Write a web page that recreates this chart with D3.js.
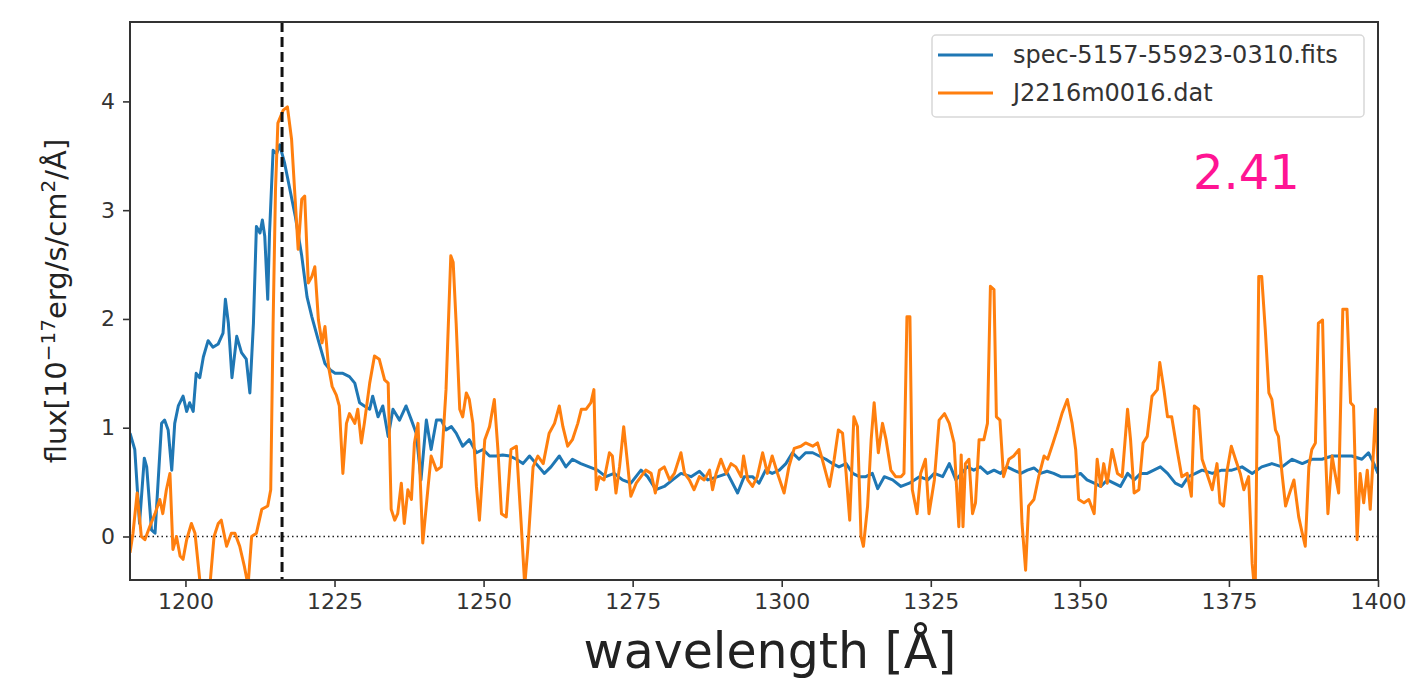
<!DOCTYPE html>
<html>
<head>
<meta charset="utf-8">
<script src="https://cdn.jsdelivr.net/npm/d3@7"></script>
<style>
    body { margin: 0; background: #fff; }
    svg { display: block; font-family: "DejaVu Sans", sans-serif; }
</style>
</head>
<body>
<svg id="vis"></svg>
<script>
const seriesNames = ["spec-5157-55923-0310.fits", "J2216m0016.dat"];
const seriesColors = ["#1f77b4", "#ff7f0e"];
const xTicks = [1200, 1225, 1250, 1275, 1300, 1325, 1350, 1375, 1400];
const yTicks = [0, 1, 2, 3, 4];
const xLimits = [1190.7, 1400];
const yLimits = [-0.4, 4.73];
const lyaLine = 1216.2;
const redshiftLabel = "2.41";

// SDSS spectrum (blue)
const blueWave = [
    1190.7, 1191.5, 1192.3, 1193.1, 1193.5, 1194.3, 1194.9, 1196.0, 1196.5, 1197.1,
    1197.7, 1198.2, 1198.8, 1199.6, 1200.2, 1200.7, 1201.3, 1201.8, 1202.4, 1203.0,
    1203.8, 1204.6, 1205.5, 1206.3, 1206.7, 1207.2, 1207.8, 1208.6, 1209.4, 1210.2,
    1210.8, 1211.4, 1211.9, 1212.5, 1212.9, 1213.3, 1213.8, 1214.1, 1214.7, 1215.3,
    1215.8, 1216.6, 1217.3, 1218.4, 1219.5, 1220.4, 1221.2, 1222.3, 1223.4, 1224.3,
    1225.1, 1226.4, 1227.5, 1228.4, 1229.2, 1230.0, 1230.9, 1231.4, 1232.3, 1233.1,
    1234.0, 1234.8, 1235.9, 1237.0, 1237.9, 1238.7, 1239.5, 1240.4, 1241.2, 1242.1,
    1242.9, 1243.7, 1244.6, 1245.4, 1246.5, 1247.6, 1248.8, 1249.9, 1251.0, 1252.1,
    1253.2, 1254.4, 1255.5, 1256.6, 1257.7, 1258.8, 1260.2, 1261.3, 1262.7, 1263.8,
    1264.9, 1266.3, 1267.7, 1269.1, 1270.5, 1271.9, 1273.3, 1274.7, 1276.4, 1277.5,
    1278.9, 1280.3, 1281.7, 1283.1, 1284.8, 1286.2, 1287.6, 1289.3, 1290.9, 1292.6,
    1293.7, 1295.1, 1296.2, 1297.3, 1298.4, 1299.6, 1300.7, 1301.8, 1302.9, 1304.0,
    1305.2, 1306.3, 1307.4, 1308.5, 1309.6, 1310.8, 1311.9, 1313.0, 1314.1, 1315.2,
    1316.1, 1317.2, 1318.6, 1320.0, 1321.4, 1323.1, 1324.5, 1325.6, 1327.0, 1328.1,
    1329.2, 1331.1, 1332.2, 1333.3, 1334.5, 1335.6, 1336.7, 1337.8, 1338.9, 1340.1,
    1341.2, 1342.3, 1343.4, 1344.5, 1345.6, 1346.8, 1347.9, 1349.0, 1350.1, 1351.2,
    1352.4, 1353.5, 1354.6, 1355.7, 1356.8, 1358.0, 1359.1, 1360.2, 1361.3, 1362.4,
    1363.5, 1364.7, 1366.0, 1367.1, 1368.2, 1369.4, 1370.5, 1372.2, 1373.8, 1375.5,
    1377.2, 1378.9, 1380.5, 1382.2, 1383.9, 1385.6, 1387.3, 1388.9, 1390.6, 1392.3,
    1394.0, 1395.6, 1397.3, 1398.4, 1399.3, 1400.0
];
const blueFlux = [
    0.95, 0.80, 0.12, 0.72, 0.64, 0.06, 0.03, 1.04, 1.07, 0.98,
    0.61, 1.04, 1.20, 1.29, 1.15, 1.23, 1.15, 1.50, 1.46, 1.65,
    1.80, 1.74, 1.77, 1.87, 2.18, 1.96, 1.46, 1.84, 1.69, 1.63,
    1.32, 1.96, 2.85, 2.79, 2.91, 2.76, 2.18, 2.79, 3.55, 3.52,
    3.60, 3.44, 3.25, 2.95, 2.58, 2.20, 2.02, 1.80, 1.59, 1.53,
    1.50, 1.50, 1.47, 1.41, 1.23, 1.20, 1.17, 1.29, 1.10, 1.20,
    0.92, 1.17, 1.07, 1.20, 1.07, 0.95, 0.52, 1.07, 0.80, 1.07,
    1.07, 0.98, 1.01, 0.95, 0.83, 0.89, 0.77, 0.80, 0.74, 0.74,
    0.75, 0.74, 0.71, 0.67, 0.74, 0.67, 0.58, 0.64, 0.74, 0.64,
    0.71, 0.67, 0.64, 0.61, 0.55, 0.58, 0.52, 0.49, 0.61, 0.55,
    0.43, 0.46, 0.52, 0.58, 0.55, 0.60, 0.52, 0.55, 0.58, 0.40,
    0.55, 0.55, 0.49, 0.61, 0.58, 0.61, 0.67, 0.77, 0.71, 0.77,
    0.77, 0.74, 0.71, 0.67, 0.64, 0.67, 0.58, 0.55, 0.55, 0.58,
    0.44, 0.55, 0.52, 0.46, 0.49, 0.55, 0.52, 0.58, 0.55, 0.67,
    0.52, 0.64, 0.61, 0.64, 0.58, 0.61, 0.58, 0.64, 0.61, 0.58,
    0.61, 0.63, 0.58, 0.60, 0.58, 0.55, 0.55, 0.55, 0.58, 0.52,
    0.49, 0.46, 0.52, 0.49, 0.46, 0.58, 0.52, 0.58, 0.58, 0.61,
    0.64, 0.58, 0.49, 0.46, 0.55, 0.58, 0.61, 0.58, 0.61, 0.61,
    0.64, 0.58, 0.64, 0.67, 0.64, 0.71, 0.67, 0.71, 0.71, 0.74,
    0.74, 0.74, 0.71, 0.77, 0.67, 0.58
];

// comparison spectrum (orange)
const orangeWave = [
    1190.7, 1191.2, 1191.9, 1192.6, 1193.2, 1194.0, 1194.9, 1195.7, 1196.2, 1196.8,
    1197.4, 1197.9, 1198.5, 1199.1, 1199.6, 1200.2, 1201.0, 1201.6, 1202.4, 1203.2,
    1204.1, 1204.8, 1205.5, 1206.0, 1206.9, 1207.7, 1208.3, 1209.1, 1209.9, 1210.5,
    1211.1, 1211.9, 1212.8, 1213.8, 1214.3, 1214.7, 1215.1, 1215.5, 1216.4, 1217.1,
    1217.8, 1218.3, 1218.9, 1219.5, 1220.0, 1220.6, 1221.2, 1221.7, 1222.3, 1222.9,
    1223.4, 1224.0, 1224.6, 1225.3, 1225.8, 1226.4, 1227.0, 1227.5, 1228.4, 1228.9,
    1229.5, 1230.0, 1230.9, 1231.7, 1232.5, 1233.4, 1234.0, 1234.5, 1235.1, 1235.6,
    1236.2, 1236.7, 1237.3, 1237.9, 1238.4, 1239.0, 1239.8, 1240.7, 1241.2, 1242.1,
    1242.9, 1243.7, 1244.5, 1244.9, 1245.4, 1246.0, 1246.5, 1247.1, 1247.6, 1248.2,
    1248.8, 1249.3, 1250.2, 1251.0, 1251.8, 1252.4, 1253.0, 1253.8, 1254.6, 1255.5,
    1256.3, 1256.9, 1257.4, 1258.3, 1259.1, 1260.0, 1261.0, 1261.9, 1262.7, 1263.3,
    1264.1, 1264.9, 1265.8, 1266.4, 1267.2, 1268.0, 1268.5, 1268.9, 1269.4, 1270.2,
    1271.1, 1271.6, 1272.2, 1272.8, 1273.5, 1274.2, 1274.7, 1275.6, 1276.4, 1277.2,
    1278.1, 1278.8, 1279.5, 1280.3, 1281.2, 1282.0, 1283.1, 1283.7, 1284.5, 1285.3,
    1286.2, 1287.0, 1287.9, 1288.4, 1289.0, 1289.8, 1290.7, 1291.5, 1292.3, 1293.2,
    1293.6, 1294.3, 1295.1, 1295.9, 1296.8, 1297.6, 1298.4, 1299.3, 1300.4, 1301.2,
    1302.1, 1303.2, 1304.0, 1305.2, 1306.0, 1306.8, 1308.0, 1308.8, 1309.5, 1310.2,
    1310.8, 1311.4, 1312.1, 1312.7, 1313.3, 1313.7, 1314.4, 1315.0, 1315.5, 1316.2,
    1316.9, 1317.5, 1318.3, 1319.1, 1320.0, 1320.5, 1321.0, 1321.5, 1321.9, 1322.7,
    1323.3, 1324.1, 1324.7, 1325.6, 1326.4, 1327.3, 1328.1, 1328.9, 1329.7, 1330.1,
    1330.4, 1330.8, 1331.4, 1332.0, 1332.5, 1333.1, 1333.9, 1334.5, 1335.0, 1335.6,
    1336.0, 1336.6, 1337.2, 1338.1, 1338.9, 1339.8, 1340.3, 1340.9, 1341.4, 1342.3,
    1343.1, 1344.0, 1344.6, 1345.5, 1346.2, 1347.0, 1347.9, 1348.7, 1349.3, 1349.8,
    1350.7, 1351.5, 1352.4, 1352.9, 1353.5, 1354.0, 1354.6, 1355.4, 1356.3, 1357.1,
    1358.0, 1358.5, 1359.1, 1359.9, 1360.6, 1361.3, 1362.1, 1363.0, 1363.4, 1364.1,
    1364.7, 1365.4, 1366.3, 1367.1, 1368.0, 1368.7, 1369.2, 1369.9, 1370.5, 1371.3,
    1372.2, 1373.0, 1373.5, 1374.1, 1374.7, 1375.4, 1376.1, 1376.9, 1377.5, 1378.3,
    1378.9, 1379.4, 1380.0, 1380.5, 1381.1, 1381.7, 1382.2, 1382.8, 1383.3, 1383.9,
    1384.5, 1385.0, 1385.9, 1386.7, 1387.3, 1387.8, 1388.4, 1388.9, 1389.5, 1390.0,
    1390.7, 1391.2, 1391.6, 1392.3, 1392.8, 1393.4, 1394.1, 1394.8, 1395.4, 1395.9,
    1396.5, 1397.0, 1397.6, 1398.2, 1398.7, 1399.1, 1399.6, 1400.0
];
const orangeFlux = [
    -0.15, 0.03, 0.40, 0.00, -0.03, 0.09, 0.21, 0.34, 0.21, 0.43,
    0.58, -0.12, 0.00, -0.18, -0.21, -0.03, 0.12, 0.03, -0.40, -0.55,
    -0.45, 0.00, 0.12, 0.15, -0.09, 0.03, 0.03, -0.09, -0.28, -0.45,
    0.00, 0.03, 0.25, 0.28, 0.43, 1.96, 3.19, 3.80, 3.92, 3.95,
    3.65, 3.19, 2.64, 3.10, 3.13, 2.33, 2.39, 2.48, 1.99, 1.78,
    1.93, 1.56, 1.38, 1.30, 1.20, 0.58, 1.04, 1.13, 1.04, 1.17,
    0.86, 1.04, 1.41, 1.66, 1.63, 1.44, 1.41, 0.25, 0.15, 0.21,
    0.49, 0.12, 0.43, 0.34, 0.86, 1.04, -0.06, 0.46, 0.74, 0.61,
    0.64, 1.35, 2.58, 2.52, 1.96, 1.17, 1.10, 1.32, 1.26, 1.04,
    0.46, 0.15, 0.89, 1.01, 1.26, 0.80, 0.21, 0.18, 0.80, 0.83,
    0.12, -0.45, -0.12, 0.64, 0.74, 0.67, 0.95, 1.04, 1.20, 1.01,
    0.83, 0.89, 1.04, 1.17, 1.17, 1.23, 1.35, 0.43, 0.55, 0.52,
    0.77, 0.74, 0.40, 0.64, 1.01, 0.64, 0.37, 0.49, 0.55, 0.61,
    0.58, 0.40, 0.61, 0.64, 0.52, 0.58, 0.77, 0.58, 0.52, 0.43,
    0.55, 0.52, 0.61, 0.43, 0.58, 0.71, 0.58, 0.67, 0.64, 0.55,
    0.74, 0.52, 0.46, 0.55, 0.77, 0.58, 0.74, 0.58, 0.40, 0.64,
    0.81, 0.83, 0.86, 0.83, 0.86, 0.71, 0.46, 0.71, 0.98, 0.95,
    0.58, 0.15, 1.10, 1.01, 0.00, -0.09, 0.28, 0.89, 1.23, 0.77,
    1.04, 0.89, 0.61, 0.55, 0.55, 0.58, 2.02, 2.02, 0.43, 0.21,
    0.58, 0.71, 0.21, 0.52, 1.07, 1.13, 1.04, 0.86, 0.09, 0.75,
    0.09, 0.67, 0.71, 0.21, 0.31, 0.89, 0.89, 1.04, 2.30, 2.27,
    1.10, 1.07, 0.55, 0.71, 0.74, 0.80, 0.12, -0.31, 0.28, 0.34,
    0.55, 0.74, 0.71, 0.86, 0.98, 1.13, 1.26, 1.04, 0.80, 0.34,
    0.31, 0.34, 0.21, 0.71, 0.46, 0.67, 0.49, 0.80, 0.58, 0.55,
    1.17, 0.89, 0.40, 0.43, 0.86, 0.92, 1.29, 1.35, 1.60, 1.35,
    1.10, 1.10, 0.80, 0.55, 0.58, 0.37, 1.20, 1.17, 0.71, 0.58,
    0.43, 0.67, 0.31, 0.28, 0.61, 0.83, 0.71, 0.58, 0.43, 0.55,
    -0.25, -0.55, 2.39, 2.39, 1.90, 1.32, 1.26, 0.98, 0.92, 0.58,
    0.28, 0.37, 0.52, 0.18, 0.03, -0.09, 0.64, 0.80, 0.86, 1.96,
    1.99, 0.77, 0.21, 0.74, 0.58, 0.40, 2.09, 2.09, 1.23, 1.20,
    -0.03, 0.58, 0.31, 0.61, 0.25, 0.64, 1.17, 0.64
];

class SpectrumPlot {
    constructor() {
        this.width = 1408;
        this.height = 681;
        this.box = { left: 130, right: 1378, top: 22, bottom: 580 };
        this.x = d3.scaleLinear().domain(xLimits).range([this.box.left, this.box.right]);
        this.y = d3.scaleLinear().domain(yLimits).range([this.box.bottom, this.box.top]);
        this.svg = null;
    }

    render() {
        const x = this.x, y = this.y, b = this.box;
        this.svg = d3.select("#vis").attr("width", this.width).attr("height", this.height);

        this.svg.append("defs").append("clipPath").attr("id", "clip")
            .append("rect")
            .attr("x", b.left).attr("y", b.top)
            .attr("width", b.right - b.left).attr("height", b.bottom - b.top);

        const plot = this.svg.append("g").attr("clip-path", "url(#clip)");

        // zero level
        plot.append("line")
            .attr("x1", b.left).attr("x2", b.right)
            .attr("y1", y(0)).attr("y2", y(0))
            .attr("stroke", "#222").attr("stroke-width", 1.4)
            .attr("stroke-dasharray", "1.5,3");

        const line = d3.line().x(d => x(d[0])).y(d => y(d[1]));
        const series = [
            d3.zip(blueWave, blueFlux),
            d3.zip(orangeWave, orangeFlux)
        ];
        series.forEach((pts, i) => {
            plot.append("path")
                .datum(pts)
                .attr("d", line)
                .attr("fill", "none")
                .attr("stroke", seriesColors[i])
                .attr("stroke-width", 3)
                .attr("stroke-linejoin", "round");
        });

        // Lyman alpha marker
        plot.append("line")
            .attr("x1", x(lyaLine)).attr("x2", x(lyaLine))
            .attr("y1", b.top).attr("y2", b.bottom)
            .attr("stroke", "#111").attr("stroke-width", 3)
            .attr("stroke-dasharray", "10,5");

        // axes
        const xAxis = d3.axisBottom(x).tickValues(xTicks).tickFormat(d3.format("d"))
            .tickSize(7).tickSizeOuter(0).tickPadding(6);
        const yAxis = d3.axisLeft(y).tickValues(yTicks).tickFormat(d3.format("d"))
            .tickSize(7).tickSizeOuter(0).tickPadding(8);

        const gx = this.svg.append("g").attr("transform", `translate(0,${b.bottom})`).call(xAxis);
        const gy = this.svg.append("g").attr("transform", `translate(${b.left},0)`).call(yAxis);
        [gx, gy].forEach(g => {
            g.select(".domain").remove();
            g.selectAll(".tick line").attr("stroke", "#333").attr("stroke-width", 1.6);
            g.selectAll(".tick text")
                .attr("fill", "#333")
                .style("font-size", "22px")
                .style("font-family", "DejaVu Sans");
        });

        this.svg.append("rect")
            .attr("x", b.left).attr("y", b.top)
            .attr("width", b.right - b.left).attr("height", b.bottom - b.top)
            .attr("fill", "none").attr("stroke", "#333").attr("stroke-width", 2);

        // axis labels
        this.svg.append("text")
            .attr("x", (b.left + b.right) / 2 + 16).attr("y", 668)
            .attr("text-anchor", "middle")
            .style("font-size", "49px").attr("fill", "#222")
            .text("wavelength [Å]");

        const yl = this.svg.append("text")
            .attr("transform", `translate(66,${(b.top + b.bottom) / 2}) rotate(-90)`)
            .attr("text-anchor", "middle")
            .style("font-size", "29px").attr("fill", "#222");
        yl.append("tspan").text("flux[10");
        yl.append("tspan").attr("dy", -11).style("font-size", "20px").text("−17");
        yl.append("tspan").attr("dy", 11).text("erg/s/cm");
        yl.append("tspan").attr("dy", -11).style("font-size", "20px").text("2");
        yl.append("tspan").attr("dy", 11).text("/Å]");

        // legend
        const leg = this.svg.append("g");
        leg.append("rect")
            .attr("x", 932).attr("y", 35).attr("width", 432).attr("height", 82)
            .attr("rx", 4).attr("fill", "#fff").attr("fill-opacity", 0.8)
            .attr("stroke", "#d8d8d8").attr("stroke-width", 1.5);
        seriesNames.forEach((name, i) => {
            const ly = 55 + i * 38;
            leg.append("line")
                .attr("x1", 938).attr("x2", 993).attr("y1", ly).attr("y2", ly)
                .attr("stroke", seriesColors[i]).attr("stroke-width", 3);
            leg.append("text")
                .attr("x", 1013).attr("y", ly + 8)
                .style("font-size", "24px").attr("fill", "#333")
                .text(name);
        });

        // redshift annotation
        this.svg.append("text")
            .attr("x", 1193).attr("y", 189)
            .style("font-size", "48px").attr("fill", "#ff1493")
            .text(redshiftLabel);
    }
}

const plot = new SpectrumPlot();
plot.render();
</script>
</body>
</html>
